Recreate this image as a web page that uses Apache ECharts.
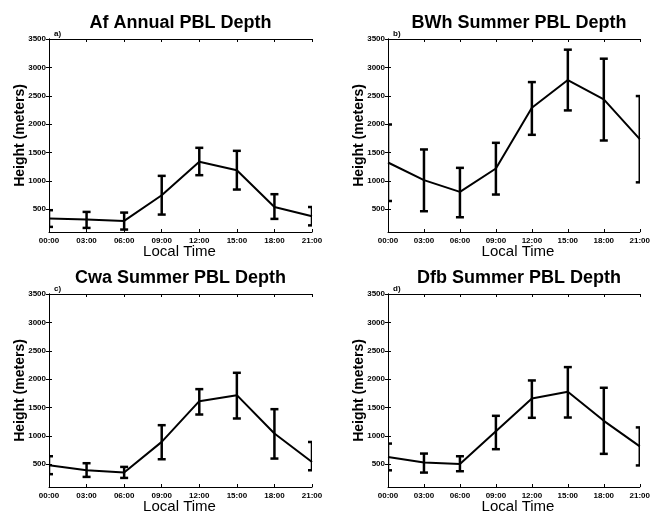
<!DOCTYPE html>
<html>
<head>
<meta charset="utf-8">
<script src="https://cdn.jsdelivr.net/npm/echarts@6/dist/echarts.min.js"></script>
<style>
html,body{margin:0;padding:0;background:#fff;}
#chart{width:653px;height:515px;}
</style>
</head>
<body>
<div id="chart"></div>
<script>
// ---- data ----
const hours = [0, 3, 6, 9, 12, 15, 18, 21];
const hourLabels = ['00:00', '03:00', '06:00', '09:00', '12:00', '15:00', '18:00', '21:00'];
const yTicks = [500, 1000, 1500, 2000, 2500, 3000, 3500];

const panelTitles = ['Af Annual PBL Depth', 'BWh Summer PBL Depth', 'Cwa Summer PBL Depth', 'Dfb Summer PBL Depth'];
const panelTags = ['a)', 'b)', 'c)', 'd)'];

const afMean = [337, 319, 295, 748, 1336, 1189, 542, 378];
const afLow  = [190, 172, 143, 407, 1101, 848, 331, 217];
const afHigh = [484, 454, 442, 1089, 1583, 1530, 766, 540];

const bwhMean = [1324, 1013, 807, 1219, 2289, 2777, 2436, 1735];
const bwhLow  = [646, 466, 360, 760, 1812, 2242, 1712, 975];
const bwhHigh = [1994, 1554, 1230, 1671, 2741, 3312, 3153, 2495];

const cwaMean = [484, 395, 354, 895, 1612, 1718, 1042, 540];
const cwaLow  = [326, 278, 260, 589, 1377, 1307, 601, 395];
const cwaHigh = [642, 519, 454, 1189, 1824, 2112, 1471, 893];

const dfbMean = [629, 531, 507, 1083, 1660, 1777, 1266, 815];
const dfbLow  = [394, 354, 378, 766, 1319, 1324, 684, 480];
const dfbHigh = [865, 689, 642, 1354, 1977, 2212, 1848, 1150];

const means = [afMean, bwhMean, cwaMean, dfbMean];
const lows = [afLow, bwhLow, cwaLow, dfbLow];
const highs = [afHigh, bwhHigh, cwaHigh, dfbHigh];

// ---- layout ----
const grids = [
  {left: 49, top: 39, width: 263, height: 193},
  {left: 388, top: 39, width: 262, height: 193},
  {left: 49, top: 294, width: 263, height: 193},
  {left: 388, top: 294, width: 262, height: 193}
];
const FONT = '"Liberation Sans", Arial, sans-serif';
const YMIN = 100, YMAX = 3500;

const xAxes = [], yAxes = [], series = [], graphics = [];

function errRender(params, api) {
  const x = api.value(0), lo = api.value(1), hi = api.value(2);
  const a = api.coord([x, hi]);
  const b = api.coord([x, lo]);
  const w = 4;
  const st = {stroke: '#000', lineWidth: 2.5};
  return {
    type: 'group',
    children: [
      {type: 'line', shape: {x1: a[0], y1: a[1], x2: b[0], y2: b[1]}, style: st},
      {type: 'line', shape: {x1: a[0] - w, y1: a[1], x2: a[0] + w, y2: a[1]}, style: st},
      {type: 'line', shape: {x1: b[0] - w, y1: b[1], x2: b[0] + w, y2: b[1]}, style: st}
    ]
  };
}

grids.forEach((g, i) => {
  const axLine = {show: true, lineStyle: {color: '#000', width: 1}};
  xAxes.push({
    type: 'value', gridIndex: i, min: 0, max: 21, interval: 3, position: 'bottom',
    axisLine: axLine,
    axisTick: {show: true, inside: true, length: 3, lineStyle: {color: '#000'}},
    axisLabel: {show: true, color: '#000', fontSize: 8, fontWeight: 'bold', fontFamily: FONT, margin: 5,
      alignMaxLabel: 'center', alignMinLabel: 'center',
      formatter: v => hourLabels[hours.indexOf(v)] || ''},
    splitLine: {show: false}
  });
  xAxes.push({
    type: 'value', gridIndex: i, min: 0, max: 21, interval: 3, position: 'top',
    axisLine: axLine,
    axisTick: {show: true, inside: true, length: 3, lineStyle: {color: '#000'}},
    axisLabel: {show: false},
    splitLine: {show: false}
  });
  yAxes.push({
    type: 'value', gridIndex: i, min: YMIN, max: YMAX, position: 'left',
    axisLine: axLine,
    axisTick: {show: true, inside: true, length: 3, customValues: yTicks, lineStyle: {color: '#000'}},
    axisLabel: {show: true, color: '#000', fontSize: 8, fontWeight: 'bold', fontFamily: FONT, margin: 3,
      customValues: yTicks, formatter: v => String(v)},
    splitLine: {show: false}
  });
  yAxes.push({
    type: 'value', gridIndex: i, min: YMIN, max: YMAX, position: 'right',
    axisLine: axLine,
    axisTick: {show: true, inside: true, length: 3, customValues: yTicks, lineStyle: {color: '#000'}},
    axisLabel: {show: false, customValues: yTicks},
    splitLine: {show: false}
  });

  series.push({
    type: 'line', xAxisIndex: 2 * i, yAxisIndex: 2 * i,
    data: hours.map((h, k) => [h, means[i][k]]),
    showSymbol: false, symbol: 'none', clip: true,
    lineStyle: {color: '#000', width: 2},
    animation: false, z: 3
  });
  series.push({
    type: 'custom', xAxisIndex: 2 * i, yAxisIndex: 2 * i,
    data: hours.map((h, k) => [h, lows[i][k], highs[i][k]]),
    encode: {x: 0, y: [1, 2]},
    renderItem: errRender, clip: true, animation: false, z: 4
  });

  const cx = g.left + g.width / 2;
  graphics.push({
    type: 'text', x: cx, y: g.top - 16,
    style: {text: panelTitles[i], fill: '#000', font: 'bold 18px ' + FONT, textAlign: 'center', textVerticalAlign: 'middle'}
  });
  graphics.push({
    type: 'text', x: g.left + 5, y: g.top - 1,
    style: {text: panelTags[i], fill: '#000', font: 'bold 8px ' + FONT, textAlign: 'left', textVerticalAlign: 'bottom'}
  });
  graphics.push({
    type: 'text', x: cx - 1, y: g.top + g.height + 20,
    style: {text: 'Local Time', fill: '#000', font: '15px ' + FONT, textAlign: 'center', textVerticalAlign: 'middle'}
  });
  graphics.push({
    type: 'text', x: g.left - 29, y: g.top + g.height / 2, rotation: Math.PI / 2,
    style: {text: 'Height (meters)', fill: '#000', font: 'bold 14px ' + FONT, textAlign: 'center', textVerticalAlign: 'middle'}
  });
});

const chart = echarts.init(document.getElementById('chart'), null, {renderer: 'canvas'});
chart.setOption({
  animation: false,
  backgroundColor: '#fff',
  grid: grids.map(g => Object.assign({containLabel: false}, g)),
  xAxis: xAxes,
  yAxis: yAxes,
  series: series,
  graphic: graphics
});
</script>
</body>
</html>
